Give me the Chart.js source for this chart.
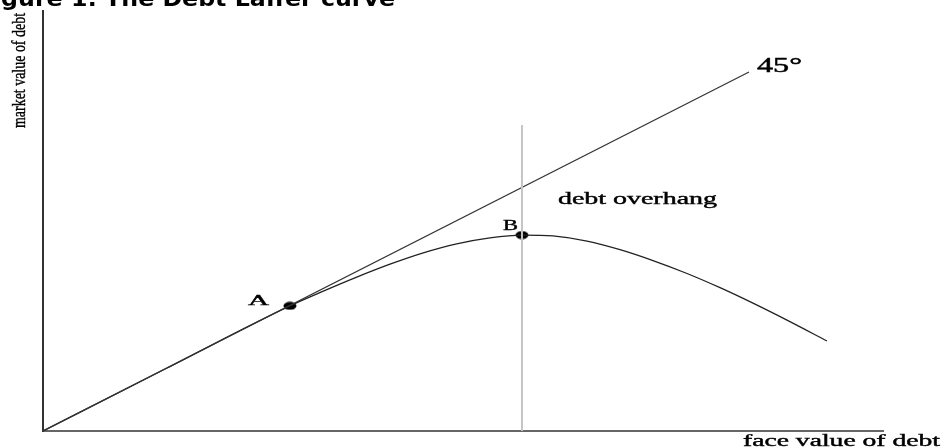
<!DOCTYPE html>
<html>
<head>
<meta charset="utf-8">
<script src="https://cdn.jsdelivr.net/npm/chart.js@4"></script>
<style>
  html, body { margin: 0; padding: 0; background: #fff; }
  canvas { display: block; }
</style>
</head>
<body>
<canvas id="chart1" width="941" height="447"></canvas>
<script>
// 45 degree reference line (market value = face value)
const lineX = [0, 84.05];
const lineY = [0, 42.74];

// Debt Laffer curve
const curveX = [0, 14.7, 29.4, 33.37, 37.35, 41.31, 45.27, 49.25, 53.21, 57.02, 60.71, 64.76, 68.69, 72.62, 76.67, 80.6, 84.52, 88.57, 93.33];
const curveY = [0, 7.47, 14.9, 16.65, 18.32, 19.86, 21.21, 22.28, 22.99, 23.33, 23.22, 22.61, 21.59, 20.29, 18.75, 17.06, 15.22, 13.2, 10.72];

// vertical marker through B
const overhangX = [57.02, 57.02];
const overhangY = [0, 36.43];

// points A and B
const pointX = [29.4, 57.02];
const pointY = [14.9, 23.33];
const pointLabels = ["A", "B"];

const titleText = "igure 1: The Debt Laffer curve";
const xTitle = "face value of debt";
const yTitle = "market value of debt";
const lineLabel = "45°";
const regionLabel = "debt overhang";

function xy(xs, ys) {
  return xs.map((x, i) => ({ x, y: ys[i] }));
}

// slightly flattened dot like the scanned figure
const dot = document.createElement("canvas");
dot.width = 14;
dot.height = 9;
{
  const c = dot.getContext("2d");
  c.fillStyle = "#000";
  c.beginPath();
  c.ellipse(7, 4.5, 6.5, 4, 0, 0, Math.PI * 2);
  c.fill();
}

// draw text squeezed/stretched to a given width
function fitText(ctx, text, x, y, w, font, heavy) {
  ctx.font = font;
  const m = ctx.measureText(text).width;
  ctx.save();
  ctx.translate(x, y);
  ctx.scale(w / m, 1);
  ctx.fillText(text, 0, 0);
  if (heavy) {
    ctx.lineWidth = heavy;
    ctx.strokeStyle = ctx.fillStyle;
    ctx.strokeText(text, 0, 0);
  }
  ctx.restore();
}

const textPlugin = {
  id: "texts",
  afterDraw(chart) {
    const { ctx, chartArea } = chart;
    const sx = chart.scales.x, sy = chart.scales.y;
    const serif = '"Liberation Serif", "Times New Roman", serif';
    ctx.save();
    ctx.fillStyle = "#000";
    ctx.textBaseline = "alphabetic";
    ctx.textAlign = "left";

    // title, cut off at the top and left like the source
    fitText(ctx, titleText, -7, 6, 402, 'bold 21px "DejaVu Sans", sans-serif');

    // axis titles
    fitText(ctx, xTitle, chartArea.right - 140, chartArea.bottom + 15, 197, "16px " + serif, 0.4);
    ctx.save();
    ctx.translate(chartArea.left - 18, chartArea.top + 117);
    ctx.rotate(-Math.PI / 2);
    fitText(ctx, yTitle, 0, 0, 115, "18px " + serif, 0.4);
    ctx.restore();

    // point labels
    fitText(ctx, pointLabels[0], sx.getPixelForValue(pointX[0]) - 42, sy.getPixelForValue(pointY[0]) - 1, 21, "14px " + serif, 0.4);
    fitText(ctx, pointLabels[1], sx.getPixelForValue(pointX[1]) - 19, sy.getPixelForValue(pointY[1]) - 5, 15, "14px " + serif, 0.4);

    // line and region labels
    fitText(ctx, lineLabel, sx.getPixelForValue(lineX[1]) + 8, sy.getPixelForValue(lineY[1]), 45, "21px " + serif, 0.5);
    fitText(ctx, regionLabel, sx.getPixelForValue(overhangX[0]) + 36, sy.getPixelForValue(pointY[1]) - 31, 159, "16px " + serif, 0.4);
    ctx.restore();
  }
};

new Chart(document.getElementById("chart1"), {
  type: "scatter",
  data: {
    datasets: [
      { data: xy(overhangX, overhangY), showLine: true, borderColor: "#c4c4c4", borderWidth: 2, pointRadius: 0 },
      { data: xy(lineX, lineY), showLine: true, borderColor: "#333", borderWidth: 1.2, pointRadius: 0 },
      { data: xy(curveX, curveY), showLine: true, borderColor: "#222", borderWidth: 1.3, pointRadius: 0, cubicInterpolationMode: "monotone" },
      { data: xy(pointX, pointY), showLine: false, pointStyle: dot, pointRadius: 5 }
    ]
  },
  options: {
    responsive: false,
    animation: false,
    events: [],
    layout: { padding: { left: 43, right: 58, top: 11, bottom: 16 } },
    plugins: { legend: { display: false }, tooltip: { enabled: false } },
    scales: {
      x: {
        type: "linear", min: 0, max: 100,
        ticks: { display: false }, grid: { display: false },
        border: { display: true, color: "#666", width: 2 },
        afterFit: s => { s.height = 0; }
      },
      y: {
        type: "linear", min: 0, max: 50,
        ticks: { display: false }, grid: { display: false },
        border: { display: true, color: "#333", width: 2 },
        afterFit: s => { s.width = 0; }
      }
    }
  },
  plugins: [textPlugin]
});
</script>
</body>
</html>
